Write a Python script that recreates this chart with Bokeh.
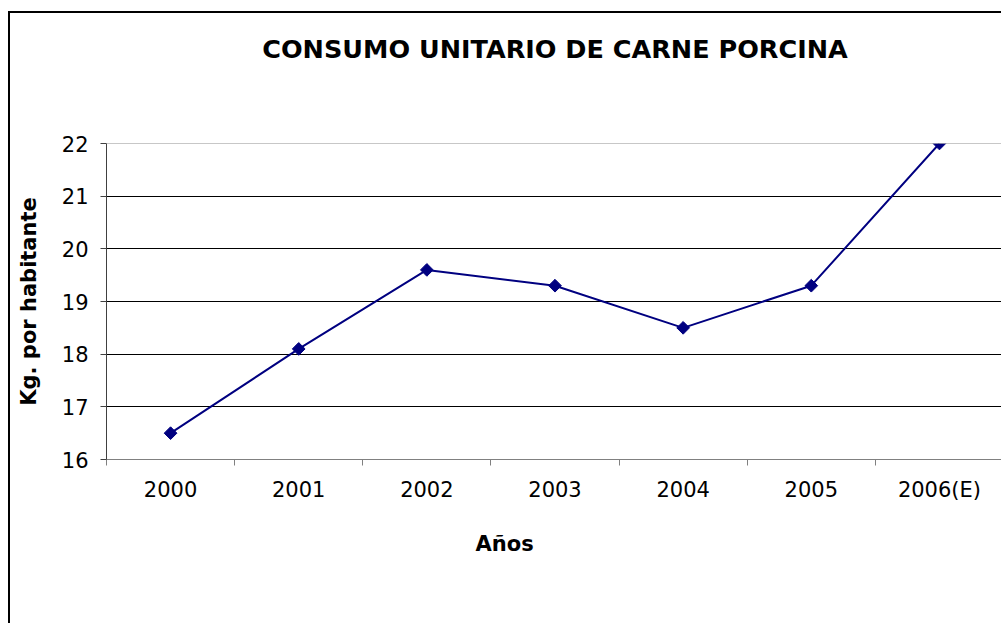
import math
from bokeh.plotting import figure
from bokeh.models import FixedTicker, Title, Range1d, Span
from bokeh.embed import file_html
from bokeh.resources import INLINE

# ---- data ----
years = ["2000", "2001", "2002", "2003", "2004", "2005", "2006(E)"]
consumo = [16.5, 18.1, 19.6, 19.3, 18.5, 19.3, 22.0]
y_ticks = [16, 17, 18, 19, 20, 21, 22]
title_text = "CONSUMO UNITARIO DE CARNE PORCINA"

xs = [i + 0.5 for i in range(len(years))]
bounds = list(range(len(years) + 1))

p = figure(width=993, height=612, output_backend="svg", toolbar_location=None,
           x_range=Range1d(0, len(years)), y_range=Range1d(y_ticks[0], y_ticks[-1]),
           min_border_left=96, min_border_right=0, min_border_top=130,
           min_border_bottom=166)
p.styles = {"border-left": "2px solid black", "border-top": "2px solid black",
            "margin-top": "11px", "margin-left": "8px"}
p.outline_line_color = None
p.background_fill_color = "white"
p.border_fill_color = "white"

p.title.text = title_text
p.title.align = "center"
p.title.text_font = "DejaVu Sans"
p.title.text_font_size = "25.5px"
p.title.text_font_style = "bold"
p.title.text_color = "black"
p.title.standoff = 10

# empty spacer between the title and the plot area
spacer = Title(text=" ", text_font_size="1px", standoff=72)
p.add_layout(spacer, "above")

# grid
p.xgrid.grid_line_color = None
p.ygrid.ticker = FixedTicker(ticks=y_ticks[1:-1])
p.ygrid.grid_line_color = "#000000"
p.ygrid.grid_line_width = 1
p.add_layout(Span(location=y_ticks[-1], dimension="width", line_color="#909090", line_width=1))

# x axis
xa = p.xaxis[0]
xa.ticker = FixedTicker(ticks=xs, minor_ticks=bounds)
xa.major_label_overrides = {x: y for x, y in zip(xs, years)}
xa.major_tick_out = 0
xa.major_tick_in = 0
xa.minor_tick_out = 6
xa.minor_tick_in = 0
xa.minor_tick_line_color = "#808080"
xa.axis_line_color = "#808080"
xa.major_label_standoff = 12
xa.major_label_text_font = "DejaVu Sans"
xa.major_label_text_font_size = "21px"
xa.major_label_text_color = "black"

# y axis
ya = p.yaxis[0]
ya.ticker = FixedTicker(ticks=y_ticks)
ya.major_tick_out = 6
ya.major_tick_in = 0
ya.minor_tick_line_color = None
ya.axis_line_color = "#404040"
ya.major_tick_line_color = "#404040"
ya.major_label_standoff = 12
ya.major_label_text_font = "DejaVu Sans"
ya.major_label_text_font_size = "21px"
ya.major_label_text_color = "black"
ya.axis_label = "Kg. por habitante"
ya.axis_label_text_font = "DejaVu Sans"
ya.axis_label_text_font_size = "21px"
ya.axis_label_text_font_style = "bold"
ya.axis_label_text_color = "black"
ya.axis_label_standoff = 18

xt = Title(text="Años", align="left", offset=369, standoff=50, text_font="DejaVu Sans",
           text_font_size="21px", text_font_style="bold", text_color="black")
p.add_layout(xt, "below")

# series
p.line(xs, consumo, line_color="#000080", line_width=2)
p.scatter(xs, consumo, marker="square", size=9, angle=math.pi / 4,
          fill_color="#000080", line_color="#000080")

open("out.html", "w").write(file_html(p, INLINE))
